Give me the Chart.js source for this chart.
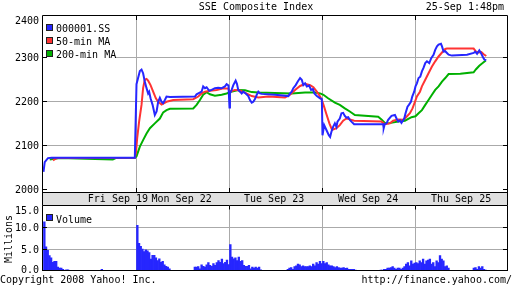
<!DOCTYPE html>
<html><head><meta charset="utf-8">
<script src="https://cdn.jsdelivr.net/npm/chart.js@4"></script>
<style>
html,body{margin:0;padding:0;background:#fff;}
#wrap{position:relative;width:512px;height:288px;overflow:hidden;}
canvas{position:absolute;left:0;top:0;}
</style></head><body>
<div id="wrap"><canvas id="c1" width="512" height="288"></canvas><canvas id="c2" width="512" height="288"></canvas></div>
<script>
// ---- text ----
const title = 'SSE Composite Index';
const stamp = '25-Sep 1:48pm';
const copyright = 'Copyright 2008 Yahoo! Inc.';
const sourceUrl = 'http://finance.yahoo.com/';
const seriesNames = ['000001.SS', '50-min MA', '200-min MA'];
const volumeName = 'Volume';
const volumeUnit = 'Millions';
// ---- x axis: trading days (fractional day index, 9:30-15:00 per day) ----
const dayLabels = ['Fri Sep 19', 'Mon Sep 22', 'Tue Sep 23', 'Wed Sep 24', 'Thu Sep 25'];
const dayLabelPos = [0.80, 1.485, 2.48, 3.49, 4.49];
const dayBoundaries = [1, 2, 3, 4];
const priceTicks = [2000, 2100, 2200, 2300, 2400];
const volumeTicks = [0, 5, 10, 15];
// ---- price ----
const priceT = [0.000,0.013,0.048,0.088,0.982,
 1.000,1.036,1.054,1.071,1.089,1.108,1.125,1.136,1.151,1.173,1.197,1.216,1.233,1.251,1.270,1.287,1.305,1.323,1.359,1.628,1.646,1.700,1.717,1.736,1.754,1.782,1.808,1.843,1.879,1.916,1.951,1.969,1.989,
 2.000,2.005,2.023,2.041,2.066,2.080,2.094,2.113,2.131,2.148,2.174,2.202,2.220,2.239,2.256,2.274,2.293,2.310,2.328,2.346,2.490,2.633,2.651,2.669,2.686,2.712,2.734,2.759,2.777,2.794,2.813,2.831,2.856,2.877,2.896,2.913,2.939,2.974,2.993,
 3.000,3.018,3.042,3.068,3.082,3.096,3.114,3.133,3.150,3.161,3.186,3.204,3.222,3.240,3.257,3.276,3.294,3.311,3.340,3.652,3.658,3.669,3.688,3.706,3.742,3.779,3.796,3.814,3.832,3.849,3.879,3.893,3.914,3.929,3.951,3.965,3.986,
 4.000,4.015,4.033,4.051,4.069,4.086,4.105,4.123,4.148,4.169,4.194,4.212,4.231,4.248,4.274,4.285,4.302,4.320,4.338,4.356,4.392,4.554,4.625,4.643,4.662,4.686,4.708,4.722,4.740,4.761];
const priceV = [2040,2062,2071,2072,2072,
 2239,2269,2272,2264,2245,2230,2218,2222,2207,2192,2169,2177,2199,2208,2199,2196,2203,2211,2210,2211,2216,2222,2234,2230,2232,2224,2226,2230,2231,2230,2234,2239,2236,
 2186,2218,2226,2237,2247,2240,2226,2222,2218,2222,2218,2212,2203,2197,2199,2205,2215,2222,2218,2217,2215,2212,2218,2222,2230,2237,2245,2253,2249,2237,2241,2234,2236,2226,2228,2218,2212,2207,2205,
 2123,2146,2135,2123,2119,2131,2142,2150,2142,2154,2161,2173,2174,2167,2163,2164,2158,2154,2148,2148,2139,2148,2150,2158,2167,2169,2161,2154,2157,2151,2161,2173,2188,2192,2199,2211,2222,
 2234,2241,2253,2256,2268,2276,2287,2291,2287,2298,2306,2317,2325,2329,2331,2325,2313,2314,2310,2306,2304,2306,2310,2313,2308,2316,2308,2302,2295,2293];
// ---- 50-min moving average ----
const ma50T = [0.102,0.131,0.153,0.982,
 0.995,1.007,1.028,1.054,1.071,1.089,1.108,1.125,1.151,1.179,1.208,1.233,1.270,1.287,1.323,1.395,1.610,1.664,1.700,1.736,1.790,1.862,1.933,1.987,
 2.005,2.057,2.111,2.165,2.239,2.310,2.418,2.597,2.651,2.705,2.759,2.813,2.867,2.902,2.939,2.974,2.990,
 3.017,3.039,3.074,3.103,3.150,3.186,3.222,3.257,3.294,3.340,3.634,3.671,3.725,3.760,3.814,3.868,3.904,3.940,3.968,3.994,
 4.015,4.048,4.069,4.105,4.140,4.177,4.212,4.248,4.285,4.320,4.338,4.625,4.651,4.679,4.708,4.733,4.761];
const ma50V = [2066,2070,2071,2072,
 2085,2116,2154,2192,2230,2249,2251,2247,2237,2222,2207,2199,2193,2195,2199,2203,2205,2211,2218,2222,2224,2226,2230,2229,
 2222,2226,2225,2220,2212,2209,2211,2209,2215,2226,2235,2240,2237,2232,2222,2211,2205,
 2188,2173,2150,2135,2139,2146,2156,2161,2159,2156,2154,2148,2150,2156,2159,2158,2165,2173,2184,2199,
 2211,2222,2234,2249,2264,2279,2291,2302,2311,2319,2320,2320,2313,2311,2312,2307,2303];
// ---- 200-min moving average ----
const ma200T = [0.067,0.174,0.745,0.777,0.982,
 1.000,1.036,1.071,1.108,1.144,1.197,1.251,1.287,1.323,1.359,1.610,1.646,1.682,1.717,1.754,1.790,1.843,1.916,1.969,
 2.005,2.094,2.167,2.239,2.310,2.669,2.813,2.920,2.974,
 3.010,3.060,3.133,3.186,3.240,3.294,3.348,3.599,3.634,3.671,3.706,3.814,3.886,3.957,
 4.000,4.033,4.069,4.105,4.140,4.177,4.212,4.248,4.285,4.320,4.356,4.482,4.625,4.651,4.686,4.722,4.756];
const ma200V = [2068,2071,2068,2071,2072,
 2075,2097,2112,2127,2139,2150,2161,2175,2180,2183,2184,2192,2203,2215,2221,2216,2213,2215,2218,
 2221,2226,2225,2221,2220,2218,2220,2220,2218,
 2215,2207,2197,2192,2184,2177,2169,2165,2159,2151,2150,2154,2156,2164,
 2166,2173,2180,2192,2203,2215,2226,2234,2245,2253,2262,2263,2266,2273,2281,2287,2293];
// ---- volume (millions), 6-minute bins: morning bins from bin 0, afternoon bins from bin 34 ----
const BINS_PER_DAY = 55, PM_FIRST_BIN = 34;
const volFriAM = [11.3,5.6,4.8,3.6,3.1,2.1,2.3,2.3,1.0,0.8,0.8,0.5,0,0.4,0.4,0,0,0,0,0];
const volFriPM = [0.5];
const volMonAM = [10.5,6.4,5.7,5.1,4.5,4.9,4.7,4.3,2.8,3.7,3.7,3.1,2.5,2.9,2.1,2.3,1.5,1.2,1.0,0.6];
const volMonPM = [1.0,1.0,1.1,0.6,1.5,1.2,1.0,1.5,2.0,1.4,1.2,1.8,1.4,2.0,2.5,2.1,2.8,1.8,2.1,2.6,1.6];
const volTueAM = [6.1,3.3,2.9,3.1,2.5,3.3,2.3,2.5,1.4,1.2,1.2,1.4,0.6,1.0,0.8,1.0,0.8,1.0,0.4,0.2];
const volTuePM = [0.5,0.75,0.9,0.5,1.1,1.3,1.7,1.5,1.1,1.3,1.1,1.1,1.1,1.3,1.1,1.7,1.3,2.0,1.7,2.3,1.8];
const volWedAM = [2.3,1.8,2.0,1.5,1.3,1.3,1.1,0.9,1.1,0.9,0.75,0.75,0.9,0.7,0.75,0.5,0.5,0.5,0.5,0.3];
const volWedPM = [0.3,0.3,0.5,0.5,0.75,0.75,0.9,1.1,0.75,0.5,0.75,0.75,0.5,0.75,1.1,1.7,2.0,1.3,2.4,1.7,1.9];
const volThuAM = [2.0,1.8,2.4,2.0,2.8,1.7,2.4,2.6,2.8,1.7,2.0,1.1,2.4,2.0,3.6,2.8,2.4,1.1,1.3,0.75];
const volThuPM = [0.75,0.9,0.5,1.1,0.75,1.1,0.5,0.3];

// ---- styles ----
const FONT = '10px "DejaVu Sans Mono", monospace';
const BLUE = '#2626ff', RED = '#ff3333', GREEN = '#00b000', GRID = '#aaaaaa', BAND = '#e0e0e0';
const seriesColors = [BLUE, RED, GREEN];
const XMIN = -0.0054, XMAX = 4.9839;
const YMIN = 1994, YMAX = 2394;
const VMIN = 0.2273, VMAX = 15.0;

const pts = (ts, vs) => ts.map((t, i) => ({x: t, y: vs[i]}));
const al = p => Math.round(p - 0.5) + 0.5;
const clamp = (v, lo, hi) => Math.max(lo, Math.min(hi, v));

const mainDeco = {
  id: 'mainDeco',
  afterDraw(chart) {
    const c = chart.ctx, a = chart.chartArea, xs = chart.scales.x, ys = chart.scales.y;
    c.save();
    c.font = FONT; c.lineWidth = 1; c.textBaseline = 'alphabetic';
    // legend
    c.fillStyle = '#fff'; c.fillRect(a.left, a.top, 73, 45);
    seriesNames.forEach((n, i) => {
      const by = 24.5 + i * 13;
      c.fillStyle = seriesColors[i]; c.fillRect(by ? 47 : 47, by + 0.5, 5, 5);
      c.strokeStyle = '#222'; c.strokeRect(46.5, by, 6, 6);
      c.fillStyle = '#000'; c.textAlign = 'left'; c.fillText(n, 56, 32 + i * 13);
    });
    // tick marks
    c.strokeStyle = '#000'; c.beginPath();
    priceTicks.forEach(v => {
      if (v <= YMIN || v >= YMAX) return;
      const y = al(ys.getPixelForValue(v));
      c.moveTo(a.left, y); c.lineTo(a.left + 4, y);
      c.moveTo(a.right - 4, y); c.lineTo(a.right, y);
    });
    dayBoundaries.forEach(d => {
      const x = al(xs.getPixelForValue(d));
      c.moveTo(x, a.top); c.lineTo(x, a.top + 4);
      c.moveTo(x, a.bottom - 4); c.lineTo(x, a.bottom);
    });
    c.stroke();
    // date band
    c.fillStyle = BAND; c.fillRect(a.left, a.bottom + 1, a.right - a.left, 12);
    c.beginPath();
    c.moveTo(a.left - 0.5, a.top - 0.5); c.lineTo(a.right + 0.5, a.top - 0.5);
    c.moveTo(a.left - 0.5, a.top - 0.5); c.lineTo(a.left - 0.5, a.bottom + 13.5);
    c.moveTo(a.right + 0.5, a.top - 0.5); c.lineTo(a.right + 0.5, a.bottom + 13.5);
    c.moveTo(a.left - 0.5, a.bottom + 0.5); c.lineTo(a.right + 0.5, a.bottom + 0.5);
    c.moveTo(a.left - 0.5, a.bottom + 13.5); c.lineTo(a.right + 0.5, a.bottom + 13.5);
    c.stroke();
    c.fillStyle = '#000'; c.textAlign = 'center';
    dayLabels.forEach((t, i) => c.fillText(t, xs.getPixelForValue(dayLabelPos[i]), a.bottom + 10));
    // y labels
    c.textAlign = 'right';
    priceTicks.forEach(v => {
      const y = clamp(ys.getPixelForValue(v), a.top + 4, a.bottom - 2);
      c.fillText(String(v), 39, y + 3.7);
    });
    // title / stamp / footer
    c.textAlign = 'center'; c.fillText(title, 256, 10);
    c.textAlign = 'right'; c.fillText(stamp, 504, 10);
    c.textAlign = 'left'; c.fillText(copyright, 0, 283);
    c.textAlign = 'right'; c.fillText(sourceUrl, 512, 283);
    c.restore();
  }
};

const volDeco = {
  id: 'volDeco',
  afterDraw(chart) {
    const c = chart.ctx, a = chart.chartArea, xs = chart.scales.x, ys = chart.scales.y;
    c.save();
    c.font = FONT; c.lineWidth = 1; c.textBaseline = 'alphabetic';
    c.strokeStyle = '#000'; c.beginPath();
    c.moveTo(a.left - 0.5, a.top); c.lineTo(a.left - 0.5, a.bottom);
    c.moveTo(a.right + 0.5, a.top); c.lineTo(a.right + 0.5, a.bottom);
    c.moveTo(a.left - 1, a.bottom); c.lineTo(a.right + 1, a.bottom);
    volumeTicks.forEach(v => {
      const p = ys.getPixelForValue(v);
      if (p <= a.top + 1 || p >= a.bottom - 1) return;
      const y = al(p);
      c.moveTo(a.left, y); c.lineTo(a.left + 4, y);
      c.moveTo(a.right - 4, y); c.lineTo(a.right, y);
    });
    dayBoundaries.forEach(d => {
      const x = al(xs.getPixelForValue(d));
      c.moveTo(x, a.top); c.lineTo(x, a.top + 4);
    });
    c.stroke();
    c.fillStyle = '#000'; c.textAlign = 'right';
    volumeTicks.forEach(v => {
      const y = clamp(ys.getPixelForValue(v), a.top + 5, a.bottom - 1.5);
      c.fillText(v.toFixed(1), 39, y + 3.7);
    });
    // legend
    c.fillStyle = BLUE; c.fillRect(47, 215, 5, 5);
    c.strokeStyle = '#222'; c.strokeRect(46.5, 214.5, 6, 6);
    c.fillStyle = '#000'; c.textAlign = 'left'; c.fillText(volumeName, 56, 223);
    // unit
    c.translate(11.5, 239); c.rotate(-Math.PI / 2);
    c.textAlign = 'center'; c.fillText(volumeUnit, 0, 0);
    c.restore();
  }
};

new Chart(document.getElementById('c1'), {
  type: 'line',
  data: { datasets: [
    { label: seriesNames[0], data: pts(priceT, priceV), borderColor: BLUE, borderWidth: 2, pointRadius: 0, tension: 0, fill: false },
    { label: seriesNames[1], data: pts(ma50T, ma50V), borderColor: RED, borderWidth: 2, pointRadius: 0, tension: 0, fill: false },
    { label: seriesNames[2], data: pts(ma200T, ma200V), borderColor: GREEN, borderWidth: 2, pointRadius: 0, tension: 0, fill: false }
  ]},
  options: {
    responsive: false, animation: false, events: [],
    layout: { padding: { left: 0, top: 16, right: 5, bottom: 96 } },
    plugins: { legend: { display: false }, tooltip: { enabled: false } },
    scales: {
      x: { type: 'linear', min: XMIN, max: XMAX, grid: { color: GRID, drawTicks: false }, border: { display: false },
           ticks: { display: false }, afterBuildTicks: s => { s.ticks = dayBoundaries.map(v => ({ value: v })); },
           afterFit: s => { s.height = 0; } },
      y: { type: 'linear', min: YMIN, max: YMAX, grid: { color: GRID, drawTicks: false }, border: { display: false },
           ticks: { display: false },
           afterBuildTicks: s => { s.ticks = priceTicks.filter(v => v > YMIN + 10 && v < YMAX).map(v => ({ value: v })); },
           afterFit: s => { s.width = 43; } }
    }
  },
  plugins: [mainDeco]
});

const volData = [];
[[volFriAM, volFriPM], [volMonAM, volMonPM], [volTueAM, volTuePM], [volWedAM, volWedPM], [volThuAM, volThuPM]].forEach(([am, pm], d) => {
  am.forEach((v, i) => volData.push({ x: d + (i + 0.5) / BINS_PER_DAY, y: v }));
  pm.forEach((v, i) => volData.push({ x: d + (PM_FIRST_BIN + i + 0.5) / BINS_PER_DAY, y: v }));
});

new Chart(document.getElementById('c2'), {
  type: 'bar',
  data: { datasets: [
    { label: volumeName, data: volData, backgroundColor: BLUE, borderWidth: 0, barThickness: 1.7 }
  ]},
  options: {
    responsive: false, animation: false, events: [],
    layout: { padding: { left: 0, top: 205.5, right: 5, bottom: 17.5 } },
    plugins: { legend: { display: false }, tooltip: { enabled: false } },
    scales: {
      x: { type: 'linear', min: XMIN, max: XMAX, offset: false, grid: { color: GRID, drawTicks: false, offset: false }, border: { display: false },
           ticks: { display: false }, afterBuildTicks: s => { s.ticks = dayBoundaries.map(v => ({ value: v })); },
           afterFit: s => { s.height = 0; } },
      y: { type: 'linear', min: VMIN, max: VMAX, beginAtZero: false, grid: { color: GRID, drawTicks: false }, border: { display: false },
           ticks: { display: false },
           afterBuildTicks: s => { s.ticks = volumeTicks.filter(v => v > VMIN && v < VMAX).map(v => ({ value: v })); },
           afterFit: s => { s.width = 43; } }
    }
  },
  plugins: [volDeco]
});
</script>
</body></html>
